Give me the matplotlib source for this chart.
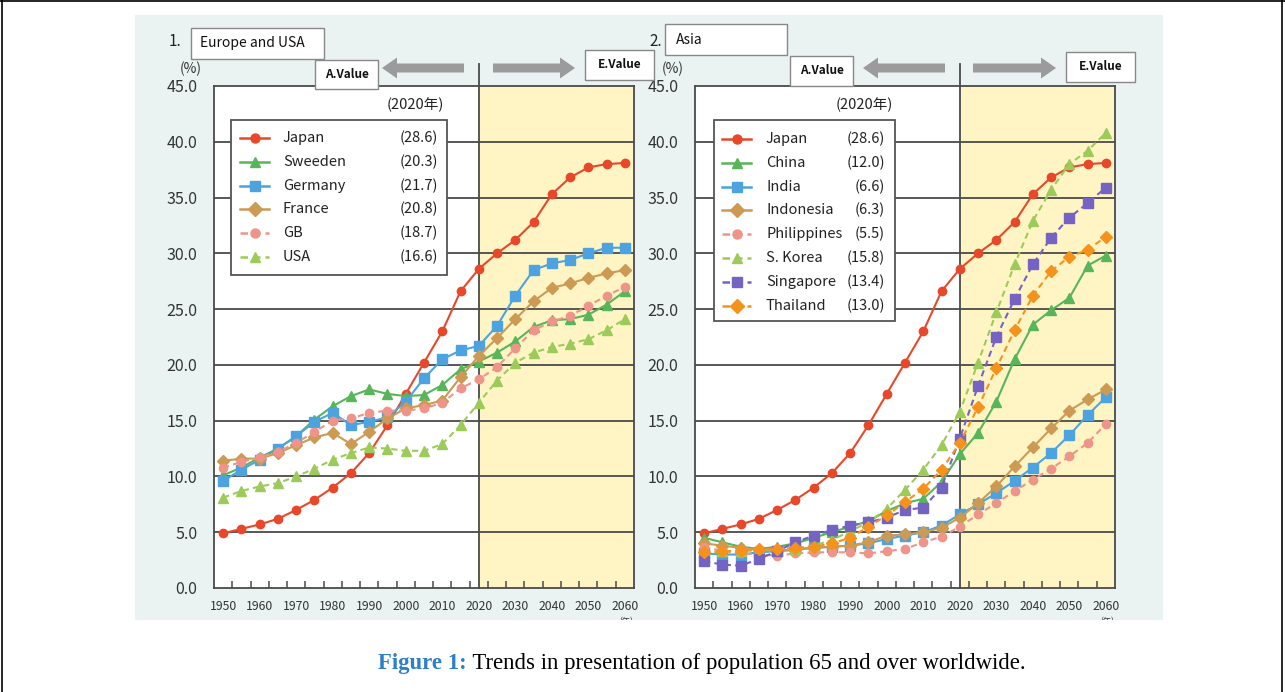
import matplotlib
matplotlib.use('Agg')
import matplotlib.pyplot as plt
from matplotlib.lines import Line2D
from matplotlib.patches import Rectangle, FancyArrow
from matplotlib.transforms import Bbox, TransformedBbox
import numpy as np

# ---------------- data ----------------
years = list(range(1950, 2061, 5))
xtick_years = list(range(1950, 2061, 10))
ytick_vals = [0, 5, 10, 15, 20, 25, 30, 35, 40, 45]

# 1. Europe and USA
eu_japan = [4.9, 5.3, 5.7, 6.2, 7.0, 7.9, 9.0, 10.3, 12.1, 14.6, 17.4, 20.2, 23.0, 26.6, 28.6, 30.0, 31.2, 32.8, 35.3, 36.8, 37.7, 38.0, 38.1]
eu_sweden = [10.1, 10.8, 11.7, 12.5, 13.6, 15.1, 16.3, 17.2, 17.8, 17.4, 17.2, 17.3, 18.2, 19.6, 20.3, 21.1, 22.1, 23.4, 24.0, 24.1, 24.5, 25.4, 26.6]
eu_germany = [9.6, 10.6, 11.5, 12.5, 13.6, 14.9, 15.7, 14.6, 14.9, 15.3, 16.7, 18.8, 20.5, 21.3, 21.7, 23.5, 26.2, 28.5, 29.1, 29.4, 30.0, 30.5, 30.5]
eu_france = [11.4, 11.6, 11.6, 12.1, 12.8, 13.5, 13.9, 12.9, 14.0, 15.2, 16.1, 16.4, 16.8, 18.9, 20.8, 22.4, 24.1, 25.7, 26.9, 27.3, 27.8, 28.2, 28.5]
eu_gb = [10.8, 11.3, 11.7, 12.2, 13.0, 14.0, 15.0, 15.2, 15.7, 15.9, 15.9, 16.1, 16.6, 17.9, 18.7, 19.8, 21.5, 23.1, 23.9, 24.4, 25.3, 26.2, 27.0]
eu_usa = [8.1, 8.7, 9.1, 9.4, 10.0, 10.7, 11.5, 12.1, 12.6, 12.5, 12.3, 12.3, 12.9, 14.6, 16.6, 18.6, 20.2, 21.1, 21.6, 21.9, 22.3, 23.1, 24.1]
eu_names = ['Japan', 'Sweeden', 'Germany', 'France', 'GB', 'USA']
eu_2020 = ['(28.6)', '(20.3)', '(21.7)', '(20.8)', '(18.7)', '(16.6)']

# 2. Asia
as_japan = eu_japan
as_china = [4.5, 4.1, 3.7, 3.5, 3.7, 4.0, 4.5, 5.0, 5.5, 6.0, 6.9, 7.6, 8.0, 9.5, 12.0, 13.9, 16.7, 20.5, 23.6, 24.9, 26.0, 28.9, 29.8]
as_india = [3.1, 3.0, 3.0, 3.2, 3.3, 3.5, 3.6, 3.7, 3.8, 4.0, 4.4, 4.7, 5.0, 5.6, 6.6, 7.5, 8.5, 9.6, 10.8, 12.1, 13.7, 15.5, 17.1]
as_indonesia = [4.0, 3.8, 3.6, 3.4, 3.3, 3.4, 3.6, 3.7, 3.8, 4.1, 4.7, 4.8, 5.0, 5.4, 6.3, 7.6, 9.1, 10.9, 12.6, 14.3, 15.9, 16.9, 17.8]
as_philippines = [3.7, 3.3, 3.1, 3.0, 2.9, 3.1, 3.2, 3.2, 3.2, 3.1, 3.3, 3.5, 4.1, 4.6, 5.5, 6.6, 7.6, 8.7, 9.7, 10.7, 11.8, 13.0, 14.7]
as_skorea = [3.0, 3.3, 3.3, 3.4, 3.5, 3.5, 3.8, 4.3, 5.1, 5.9, 7.1, 8.8, 10.6, 12.8, 15.8, 20.2, 24.7, 29.0, 32.9, 35.7, 38.0, 39.2, 40.8]
as_singapore = [2.4, 2.1, 2.0, 2.6, 3.3, 4.1, 4.7, 5.2, 5.6, 5.9, 6.3, 7.0, 7.2, 9.0, 13.4, 18.1, 22.5, 25.9, 29.0, 31.4, 33.2, 34.5, 35.9]
as_thailand = [3.2, 3.3, 3.3, 3.5, 3.5, 3.6, 3.7, 4.0, 4.5, 5.5, 6.5, 7.7, 8.9, 10.6, 13.0, 16.2, 19.7, 23.1, 26.2, 28.4, 29.7, 30.3, 31.5]
as_names = ['Japan', 'China', 'India', 'Indonesia', 'Philippines', 'S. Korea', 'Singapore', 'Thailand']
as_2020 = ['(28.6)', '(12.0)', '(6.6)', '(6.3)', '(5.5)', '(15.8)', '(13.4)', '(13.0)']

# ---------------- styles ----------------
RED = '#E8482A'
GREEN = '#58B55A'
BLUE = '#4DA3E0'
TAN = '#CC9A52'
PINK = '#EE9488'
LGREEN = '#9CCB5A'
PURPLE = '#7563C4'
ORANGE = '#F4921C'
YELLOW = '#FFF5C4'
PANEL = '#EAF3F2'
GRID = '#4A4A4A'
ARROW = '#9B9B9B'
DASH = (0, (3, 2))

eu_styles = [(RED, 'o', '-', 6), (GREEN, '^', '-', 7), (BLUE, 's', '-', 6.5),
             (TAN, 'D', '-', 6.5), (PINK, 'o', DASH, 6), (LGREEN, '^', DASH, 7)]
as_styles = [(RED, 'o', '-', 6), (GREEN, '^', '-', 7), (BLUE, 's', '-', 6.5),
             (TAN, 'D', '-', 6.5), (PINK, 'o', DASH, 6), (LGREEN, '^', DASH, 7),
             (PURPLE, 's', DASH, 6.5), (ORANGE, 'D', DASH, 6.5)]

JP = ['Noto Sans CJK JP', 'DejaVu Sans']
plt.rcParams['font.family'] = JP

W, H = 1285, 692
fig = plt.figure(figsize=(W / 100, H / 100), dpi=100)
fig.patch.set_facecolor('white')


def fx(x):
    return x / W


def fy(y):
    return 1 - y / H


# panel background
fig.add_artist(Rectangle((fx(135), fy(620)), (1163 - 135) / W, (620 - 15) / H,
                         transform=fig.transFigure, facecolor=PANEL, edgecolor='none', zorder=-5))
# outer frame lines
for xs, ys in [([2, 2], [0, 692]), ([1282, 1282], [0, 692]), ([0, 1285], [1, 1])]:
    fig.add_artist(Line2D([fx(v) for v in xs], [fy(v) for v in ys], transform=fig.transFigure,
                          color='black', lw=1.2, zorder=-4))

AX_TOP, AX_BOT = 86, 588
ax1 = fig.add_axes([fx(214), fy(AX_BOT), 420 / W, (AX_BOT - AX_TOP) / H])
ax2 = fig.add_axes([fx(695), fy(AX_BOT), 420 / W, (AX_BOT - AX_TOP) / H])

top_val = 45 * (AX_BOT - 64) / (AX_BOT - AX_TOP)


def setup(ax):
    ax.set_xlim(1947.5, 2062.5)
    ax.set_ylim(0, 45)
    ax.set_facecolor('white')
    ax.axvspan(2020, 2062.5, color=YELLOW, zorder=0, lw=0)
    for v in ytick_vals[1:-1]:
        ax.axhline(v, color=GRID, lw=1.3, zorder=1)
    ax.axvline(2020, ymin=0, ymax=top_val / 45, color=GRID, lw=1.3, zorder=1, clip_on=False)
    ax.set_yticks(ytick_vals)
    ax.set_yticklabels([f'{v:.1f}' for v in ytick_vals], fontsize=11.5, color='#333333')
    ax.tick_params(axis='y', length=0, pad=12)
    ax.set_xticks(xtick_years)
    ax.set_xticklabels([str(v) for v in xtick_years], fontsize=8.8, color='#333333')
    ax.set_xticks(np.arange(1952.5, 2060, 5), minor=True)
    ax.tick_params(axis='x', which='major', length=0, pad=9)
    ax.tick_params(axis='x', which='minor', direction='in', length=5, width=1.1, color=GRID)
    for s in ax.spines.values():
        s.set_color(GRID)
        s.set_linewidth(1.3)


setup(ax1)
setup(ax2)

for ser, (c, m, ls, ms) in zip([eu_japan, eu_sweden, eu_germany, eu_france, eu_gb, eu_usa], eu_styles):
    ax1.plot(years, ser, color=c, marker=m, ls=ls, ms=ms, lw=1.5, zorder=3)
for ser, (c, m, ls, ms) in zip([as_japan, as_china, as_india, as_indonesia, as_philippines,
                                 as_skorea, as_singapore, as_thailand], as_styles):
    ax2.plot(years, ser, color=c, marker=m, ls=ls, ms=ms, lw=1.5, zorder=3)


def legend(box, row0, step, hx0, hx1, name_x, val_x, names, vals, styles, year_x):
    x0, y0, x1, y1 = box
    fig.add_artist(Rectangle((fx(x0), fy(y1)), (x1 - x0) / W, (y1 - y0) / H, transform=fig.transFigure,
                             facecolor='white', edgecolor='#555555', lw=1.3, zorder=5))
    for i, (n, v, (c, m, ls, ms)) in enumerate(zip(names, vals, styles)):
        yy = fy(row0 + step * i)
        fig.add_artist(Line2D([fx(hx0), fx(hx1)], [yy, yy], transform=fig.transFigure,
                              color=c, ls=ls, lw=1.8, zorder=6))
        fig.add_artist(Line2D([fx((hx0 + hx1) / 2)], [yy], transform=fig.transFigure,
                              color=c, marker=m, ms=ms + 0.5, ls='none', zorder=7))
        fig.text(fx(name_x), yy, n, fontsize=10.5, va='center', ha='left', color='#222222', zorder=7)
        fig.text(fx(val_x), yy, v, fontsize=10.5, va='center', ha='right', color='#222222', zorder=7)
    fig.text(fx(year_x), fy(105), '(2020年)', fontsize=10.5, va='center', ha='center',
             color='#222222', family=JP)


legend((231, 120, 447, 275), 138, 23.8, 240, 269, 283, 438, eu_names, eu_2020, eu_styles, 415)
legend((714, 120, 895, 321), 139, 23.8, 722, 751, 766, 885, as_names, as_2020, as_styles, 864)


def box(x0, y0, x1, y1, text, tx=None, fs=10, weight='normal'):
    fig.add_artist(Rectangle((fx(x0), fy(y1)), (x1 - x0) / W, (y1 - y0) / H, transform=fig.transFigure,
                             facecolor='white', edgecolor='#888888', lw=1.0, zorder=5))
    if tx is None:
        fig.text(fx((x0 + x1) / 2), fy((y0 + y1) / 2), text, fontsize=fs, ha='center', va='center',
                 fontweight=weight, color='#111111', zorder=6)
    else:
        fig.text(fx(tx), fy((y0 + y1) / 2), text, fontsize=fs, ha='left', va='center',
                 fontweight=weight, color='#111111', zorder=6)


def arrow(x_tail, x_tip, y):
    fig.add_artist(FancyArrow(fx(x_tail), fy(y), (x_tip - x_tail) / W, 0, width=9 / H,
                              head_width=21 / H, head_length=15 / W, length_includes_head=True,
                              transform=fig.transFigure, color=ARROW, lw=0, zorder=4))


# panel 1 headers
fig.text(fx(175), fy(42), '1.', fontsize=11, ha='center', va='center', color='#222222')
box(191, 28, 324, 59, 'Europe and USA', tx=200, fs=10)
fig.text(fx(191), fy(69), '(%)', fontsize=10, ha='center', va='center', color='#333333')
box(315, 60, 378, 89, 'A.Value', fs=8.5, weight='bold')
box(585, 50, 654, 80, 'E.Value', fs=8.5, weight='bold')
arrow(464, 382, 68)
arrow(493, 575, 68)

# panel 2 headers
fig.text(fx(656), fy(41), '2.', fontsize=11, ha='center', va='center', color='#222222')
box(665, 24, 787, 55, 'Asia', tx=676, fs=10)
fig.text(fx(673), fy(69), '(%)', fontsize=10, ha='center', va='center', color='#333333')
box(790, 56, 853, 86, 'A.Value', fs=8.5, weight='bold')
box(1066, 52, 1135, 82, 'E.Value', fs=8.5, weight='bold')
arrow(945, 863, 68)
arrow(973, 1056, 68)

# (年) under the x axes, clipped by panel edge
clipbb = TransformedBbox(Bbox([[fx(135), fy(620)], [fx(1163), fy(15)]]), fig.transFigure)
for xx in (626, 1107):
    t = fig.text(fx(xx), fy(617), '(年)', fontsize=6, ha='center', va='top', color='#333333')
    t.set_clip_on(True)
    t.set_clip_box(clipbb)

# caption
t1 = fig.text(fx(378), fy(663), 'Figure 1:', fontsize=16.4, fontweight='bold', color='#2D7FC9',
              family='Liberation Serif', ha='left', va='center')
ax1.annotate(' Trends in presentation of population 65 and over worldwide.', xy=(1, 0.5), xycoords=t1,
             fontsize=16.4, family='Liberation Serif', color='black', ha='left', va='center',
             annotation_clip=False)

fig.savefig('out.png', dpi=100)
